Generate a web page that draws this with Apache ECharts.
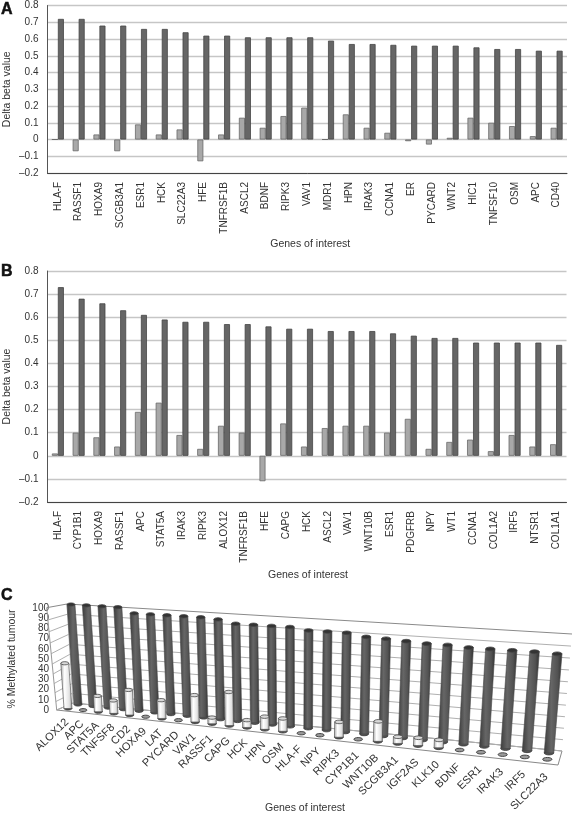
<!DOCTYPE html>
<html>
<head>
<meta charset="utf-8">
<style>html,body{margin:0;padding:0;background:#fff}#c{width:572px;height:814px}</style>
<script src="https://cdn.jsdelivr.net/npm/echarts@6/dist/echarts.min.js"></script>
</head>
<body>
<div id="c"></div>
<script>
const genesA = ['HLA-F','RASSF1','HOXA9','SCGB3A1','ESR1','HCK','SLC22A3','HFE','TNFRSF1B','ASCL2','BDNF','RIPK3','VAV1','MDR1','HPN','IRAK3','CCNA1','ER','PYCARD','WNT2','HIC1','TNFSF10','OSM','APC','CD40'];
const lightA = [0,-0.07,0.03,-0.07,0.09,0.03,0.06,-0.13,0.03,0.13,0.07,0.14,0.19,0,0.15,0.07,0.04,-0.01,-0.03,0.01,0.13,0.10,0.08,0.02,0.07];
const darkA = [0.72,0.72,0.68,0.68,0.66,0.66,0.64,0.62,0.62,0.61,0.61,0.61,0.61,0.59,0.57,0.57,0.565,0.56,0.56,0.56,0.55,0.54,0.54,0.53,0.53];

const genesB = ['HLA-F','CYP1B1','HOXA9','RASSF1','APC','STAT5A','IRAK3','RIPK3','ALOX12','TNFRSF1B','HFE','CAPG','HCK','ASCL2','VAV1','WNT10B','ESR1','PDGFRB','NPY','WT1','CCNA1','COL1A2','IRF5','NTSR1','COL1A1'];
const lightB = [0.01,0.10,0.08,0.04,0.19,0.23,0.09,0.03,0.13,0.10,-0.11,0.14,0.04,0.12,0.13,0.13,0.10,0.16,0.03,0.06,0.07,0.02,0.09,0.04,0.05];
const darkB = [0.73,0.68,0.66,0.63,0.61,0.59,0.58,0.58,0.57,0.57,0.56,0.55,0.55,0.54,0.54,0.54,0.53,0.52,0.51,0.51,0.49,0.49,0.49,0.49,0.48];

const genesC = ['ALOX12','APC','STAT5A','TNFSF8','CD2','HOXA9','LAT','PYCARD','VAV1','RASSF1','CAPG','HCK','HPN','OSM','HLA-F','NPY','RIPK3','CYP1B1','WNT10B','SCGB3A1','IGF2AS','KLK10','BDNF','ESR1','IRAK3','IRF5','SLC22A3'];
const whiteC = [46,0,16,13,25,0,18,0,26,6,32,7,12,12,0,0,14,0,18,6,7,7,0,0,0,0,0];
const darkC = [100,100,100,100,95,95,95,95,95,94,91,91,91,91,89,89,89,86.5,86,85,84,84,83,83,83,83,82.5];
const ticksC = [0,10,20,30,40,50,60,70,80,90,100];

const FONT = '"Liberation Sans", Arial, sans-serif';
const TXT = '#333';

// Perspective planes of panel C: [bottom-left, bottom-right, top-right, top-left]
const planeDark = [[78,704.5],[549,753],[559,632],[71,604.5]];
const planeWhite = [[68,708.5],[547.3,759.3],[557,637.3],[60.8,608.5]];
const planeWall = [[73,703],[562,751],[572,634],[67,604]];
const planeSide = [[56.7,710],[73,703],[67,604],[46.7,607.7]];
const floorQuad = [[56.7,710],[73,703],[562,751],[558,765]];

function homography(q) {
  const [p00,p10,p11,p01] = q;
  const dx1=p10[0]-p11[0], dx2=p01[0]-p11[0], sx=p00[0]-p10[0]+p11[0]-p01[0];
  const dy1=p10[1]-p11[1], dy2=p01[1]-p11[1], sy=p00[1]-p10[1]+p11[1]-p01[1];
  const den=dx1*dy2-dx2*dy1;
  const g=(sx*dy2-dx2*sy)/den, h=(dx1*sy-sx*dy1)/den;
  const a=p10[0]-p00[0]+g*p10[0], b=p01[0]-p00[0]+h*p01[0], c=p00[0];
  const d=p10[1]-p00[1]+g*p10[1], e=p01[1]-p00[1]+h*p01[1], f=p00[1];
  return (u,v)=>{const w=g*u+h*v+1;return [(a*u+b*v+c)/w,(d*u+e*v+f)/w];};
}
const HD=homography(planeDark), HW=homography(planeWhite), HWall=homography(planeWall), HSide=homography(planeSide);

function norm(api,i,v){
  const n=genesC.length, p0=api.coord([0,0]), p1=api.coord([n-1,0]), top=api.coord([0,100]), p=api.coord([i,v]);
  return [(p[0]-p0[0])/(p1[0]-p0[0]), (p0[1]-p[1])/(p0[1]-top[1])];
}
const gradDark=()=>new echarts.graphic.LinearGradient(0,0,1,0,[{offset:0,color:'#3c3c3c'},{offset:.4,color:'#666666'},{offset:.75,color:'#525252'},{offset:1,color:'#303030'}]);
const gradWhite=()=>new echarts.graphic.LinearGradient(0,0,1,0,[{offset:0,color:'#a8a8a8'},{offset:.35,color:'#ffffff'},{offset:.75,color:'#e2e2e2'},{offset:1,color:'#8f8f8f'}]);

function cylinder(H,grad,topFill){
  return function(params,api){
    const i=api.value(0), v=api.value(1);
    const [u,t]=norm(api,i,v);
    const b=H(u,0), tp=H(u,t), full=H(u,1);
    const w=7.9*Math.hypot(full[0]-b[0],full[1]-b[1])/100, ry=w*0.2;
    if(v<=0){
      return {type:'ellipse',shape:{cx:b[0],cy:b[1],rx:w*0.48,ry:ry*0.95},style:{fill:'#9a9a9a',stroke:'#444',lineWidth:1}};
    }
    return {type:'group',children:[
      {type:'ellipse',shape:{cx:b[0],cy:b[1],rx:w/2,ry:ry},style:{fill:'#555',stroke:'#333',lineWidth:.8}},
      {type:'polygon',shape:{points:[[b[0]-w/2,b[1]],[b[0]+w/2,b[1]],[tp[0]+w/2,tp[1]],[tp[0]-w/2,tp[1]]]},style:{fill:grad(),stroke:'#444',lineWidth:.6}},
      {type:'ellipse',shape:{cx:tp[0],cy:tp[1],rx:w/2,ry:ry},style:{fill:topFill,stroke:'#444',lineWidth:.8}}
    ]};
  };
}

function barPanel(gridIdx,light,dark){
  return [
    {type:'bar',xAxisIndex:gridIdx,yAxisIndex:gridIdx,data:light,barWidth:6,barGap:0,silent:true,itemStyle:{color:'#a8a8a8',borderColor:'#6a6a6a',borderWidth:.8}},
    {type:'bar',xAxisIndex:gridIdx,yAxisIndex:gridIdx,data:dark,barWidth:6,barGap:0,silent:true,itemStyle:{color:'#666666',borderColor:'#454545',borderWidth:.8}}
  ];
}
const catAxis=(idx,cats)=>({type:'category',gridIndex:idx,data:cats,
  name:'Genes of interest',nameLocation:'middle',nameMoveOverlap:false,nameGap:idx===0?66:68,nameTextStyle:{fontFamily:FONT,fontSize:10.5,color:TXT,padding:[0,0,0,idx===0?6:2]},
  axisLine:{onZero:false,lineStyle:{color:'#444',width:1}},axisTick:{show:false},
  axisLabel:{rotate:90,interval:0,margin:9,fontFamily:FONT,fontSize:10,color:TXT}});
const valAxis=(idx)=>({type:'value',gridIndex:idx,min:-0.2,max:0.8,interval:0.1,
  name:'Delta beta value',nameLocation:'middle',nameMoveOverlap:false,nameGap:35,nameTextStyle:{fontFamily:FONT,fontSize:10.5,color:TXT},
  axisLine:{show:true,onZero:false,lineStyle:{color:'#555',width:1}},axisTick:{show:false},
  axisLabel:{margin:9,fontFamily:FONT,fontSize:10,color:TXT,formatter:v=>(v.toFixed(1)==='0.0'?'0':v.toFixed(1)).replace('-','\u2013')},
  splitLine:{show:true,lineStyle:{color:'#c6c6c6',width:1.4}}});
const letter=(text,top)=>({text,left:1,top,padding:0,textStyle:{fontFamily:FONT,fontSize:16,fontWeight:'bold',color:'#111',textBorderColor:'#111',textBorderWidth:.5}});

const chart=echarts.init(document.getElementById('c'),null,{renderer:'canvas'});
chart.setOption({
  animation:false,
  backgroundColor:'#fff',
  title:[letter('A',2),letter('B',264),letter('C',588)],
  grid:[
    {left:47.5,width:519.5,top:5.5,height:167.5,outerBoundsMode:'none'},
    {left:47.5,width:519,top:271,height:231,outerBoundsMode:'none'},
    {left:52,width:500,top:608,height:102,outerBoundsMode:'none'}
  ],
  xAxis:[catAxis(0,genesA),catAxis(1,genesB),{type:'category',gridIndex:2,data:genesC,show:false}],
  yAxis:[valAxis(0),valAxis(1),{type:'value',gridIndex:2,min:0,max:100,interval:10,
    name:'% Methylated tumour',nameLocation:'middle',nameMoveOverlap:false,nameGap:34,nameTextStyle:{fontFamily:FONT,fontSize:10.5,color:TXT},
    axisLine:{show:false},axisTick:{show:false},splitLine:{show:false},
    axisLabel:{margin:3,fontFamily:FONT,fontSize:10,color:TXT,showMinLabel:true,showMaxLabel:true}}],
  series:[
    ...barPanel(0,lightA,darkA),
    ...barPanel(1,lightB,darkB),
    {type:'custom',xAxisIndex:2,yAxisIndex:2,silent:true,clip:false,z:1,data:[[0,0]],
      renderItem:()=>({type:'polygon',shape:{points:floorQuad},style:{fill:'#fff',stroke:'#888',lineWidth:1}})},
    {type:'custom',xAxisIndex:2,yAxisIndex:2,silent:true,clip:false,z:1,data:ticksC.map(t=>[0,t]),encode:{x:0,y:1},
      renderItem:(params,api)=>{
        const t=norm(api,0,api.value(1))[1];
        const a=HSide(0,t),b=HWall(0,t),c=HWall(1,t);
        const col=t>0.99?'#8a8a8a':'#b0b0b0';
        return {type:'polyline',shape:{points:[a,b,c]},style:{fill:null,stroke:col,lineWidth:1}};
      }},
    {type:'custom',xAxisIndex:2,yAxisIndex:2,silent:true,clip:false,z:1,data:[[0,0]],
      renderItem:()=>({type:'group',children:[
        {type:'line',shape:{x1:planeSide[0][0],y1:planeSide[0][1],x2:planeSide[3][0],y2:planeSide[3][1]},style:{stroke:'#999',lineWidth:1}},
        {type:'line',shape:{x1:planeSide[1][0],y1:planeSide[1][1],x2:planeSide[2][0],y2:planeSide[2][1]},style:{stroke:'#bbb',lineWidth:1}}
      ]})},
    {type:'custom',xAxisIndex:2,yAxisIndex:2,silent:true,clip:false,z:2,data:darkC.map((v,i)=>[i,v]),encode:{x:0,y:1},
      renderItem:cylinder(HD,gradDark,'#333')},
    {type:'custom',xAxisIndex:2,yAxisIndex:2,silent:true,clip:false,z:3,data:whiteC.map((v,i)=>[i,v]),encode:{x:0,y:1},
      renderItem:cylinder(HW,gradWhite,'#d8d8d8')},
    {type:'custom',xAxisIndex:2,yAxisIndex:2,silent:true,clip:false,z:3,data:genesC.map((g,i)=>[i,0,g]),encode:{x:0,y:1},
      renderItem:(params,api)=>{
        const u=norm(api,api.value(0),0)[0];
        const b=HW(u,0);
        return {type:'text',x:b[0]-1,y:b[1]+12+u*4,rotation:Math.PI*0.245,
          style:{text:genesC[api.value(0)],fontFamily:FONT,fontSize:11,fill:TXT,align:'right',verticalAlign:'middle'}};
      }}
  ],
  graphic:[{type:'text',left:265,top:803,style:{text:'Genes of interest',fontFamily:FONT,fontSize:10.5,fill:TXT}}]
});
</script>
</body>
</html>
